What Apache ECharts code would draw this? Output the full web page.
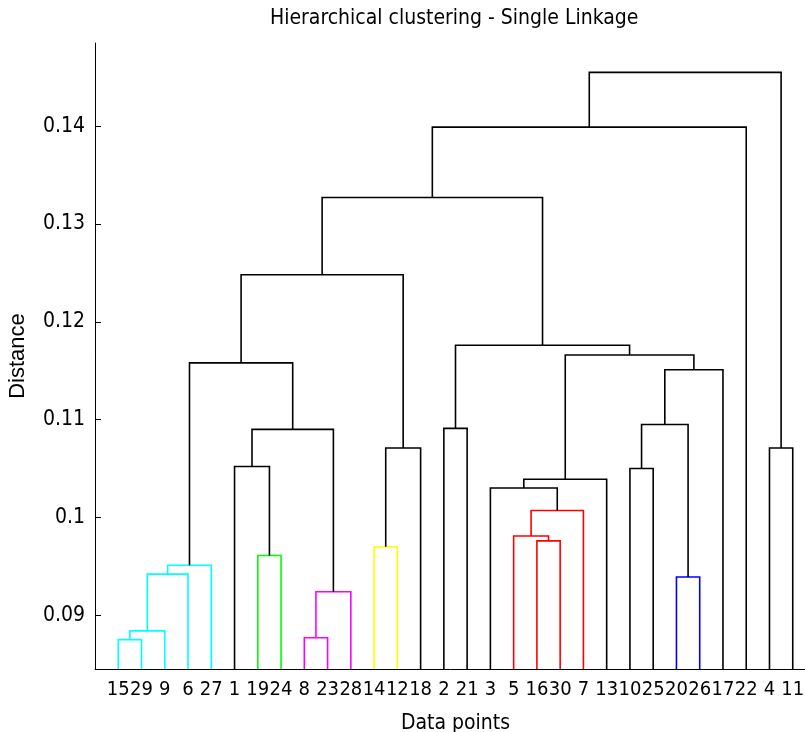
<!DOCTYPE html>
<html>
<head>
<meta charset="utf-8">
<script src="https://cdn.jsdelivr.net/npm/echarts@6/dist/echarts.min.js"></script>
<style>
  html, body { margin: 0; padding: 0; background: #fff; }
  #chart { width: 805px; height: 732px; }
</style>
</head>
<body>
<div id="chart"></div>
<script>
// leaves, left to right, as shown under the axis
const leafLabels = [15, 29, 9, 6, 27, 1, 19, 24, 8, 23, 28, 14, 12, 18, 2, 21,
  3, 5, 16, 30, 7, 13, 10, 25, 20, 26, 17, 22, 4, 11]

// linkage: ids 1..30 are points, 31.. are the merges below in order
const mergeLeft   = [15,  8, 31, 32, 20, 33, 36, 19, 14, 16,  5, 41,  3, 43, 10,  1, 39,  4, 46,  2, 45, 51, 37, 44, 50, 53, 56, 57, 58]
const mergeRight  = [29, 23,  9, 28, 26,  6, 27, 24, 12, 30, 40,  7, 42, 13, 25, 38, 18, 11, 34, 21, 35, 17, 49, 52, 54, 47, 55, 22, 48]
const mergeHeight = [0.0875, 0.0877, 0.0884, 0.0924, 0.0939, 0.0942, 0.0951, 0.0961, 0.0970, 0.0976,
  0.0981, 0.1007, 0.1030, 0.1039, 0.1050, 0.1052, 0.1071, 0.1071, 0.1090, 0.1091,
  0.1095, 0.1151, 0.1158, 0.1166, 0.1176, 0.1248, 0.1327, 0.1399, 0.1455]
const mergeGroup  = ['c', 'm', 'c', 'm', 'b', 'c', 'c', 'g', 'y', 'r',
  'r', 'r', '-', '-', '-', '-', '-', '-', '-', '-',
  '-', '-', '-', '-', '-', '-', '-', '-', '-']

const yTickValues = [0.09, 0.10, 0.11, 0.12, 0.13, 0.14]
const yTickLabels = ['0.09', '0.1', '0.11', '0.12', '0.13', '0.14']

const Y_MIN = 0.0845
const Y_MAX = 0.1485
const N = leafLabels.length

const groupColor = { c: '#00ffff', m: '#ff00ff', b: '#0000ff', g: '#00ff00', y: '#ffff00', r: '#ff0000', '-': '#000000' }
const FONT = "'Liberation Sans Narrow', 'DejaVu Sans Condensed', 'Liberation Sans', sans-serif"

// node positions
const nodeX = {}
const nodeH = {}
leafLabels.forEach((p, i) => { nodeX[p] = i + 1; nodeH[p] = Y_MIN })

const links = mergeHeight.map((h, i) => {
  const id = N + i + 1
  const a = mergeLeft[i], b = mergeRight[i]
  nodeX[id] = (nodeX[a] + nodeX[b]) / 2
  nodeH[id] = h
  return {
    coords: [[nodeX[a], nodeH[a]], [nodeX[a], h], [nodeX[b], h], [nodeX[b], nodeH[b]]],
    lineStyle: { color: groupColor[mergeGroup[i]] }
  }
})

const chart = echarts.init(document.getElementById('chart'))

const option = {
  animation: false,
  backgroundColor: '#fff',
  title: {
    text: 'Hierarchical clustering - Single Linkage',
    left: 265,
    top: 3,
    textStyle: { fontFamily: FONT, fontSize: 21, fontWeight: 'normal', color: '#000' }
  },
  // MATLAB window is [0, N+1]; the picture is cut off on the right
  grid: { left: 95, top: 43, width: 721, height: 626, outerBoundsMode: 'none' },
  xAxis: {
    type: 'value',
    min: 0,
    max: N + 1,
    name: 'Data points',
    nameLocation: 'middle',
    nameGap: 44,
    nameTextStyle: { fontFamily: FONT, fontSize: 21, color: '#000' },
    axisLine: { show: true, lineStyle: { color: '#000', width: 1 } },
    axisTick: { show: false },
    splitLine: { show: false },
    axisLabel: {
      customValues: leafLabels.map((_, i) => i + 1),
      formatter: v => String(leafLabels[Math.round(v) - 1]),
      showMinLabel: true,
      showMaxLabel: true,
      hideOverlap: false,
      fontFamily: FONT,
      fontSize: 20,
      color: '#000',
      margin: 11
    }
  },
  yAxis: {
    type: 'value',
    min: Y_MIN,
    max: Y_MAX,
    name: 'Distance',
    nameLocation: 'middle',
    nameGap: 66,
    nameTextStyle: { fontFamily: "'Liberation Sans', sans-serif", fontSize: 22, color: '#000' },
    axisLine: { show: true, lineStyle: { color: '#000', width: 1 } },
    axisTick: { show: true, inside: true, length: 6, customValues: yTickValues, lineStyle: { color: '#000' } },
    splitLine: { show: false },
    axisLabel: {
      customValues: yTickValues,
      formatter: v => yTickLabels[yTickValues.findIndex(t => Math.abs(t - v) < 1e-9)],
      showMinLabel: true,
      showMaxLabel: true,
      fontFamily: FONT,
      fontSize: 21,
      color: '#000',
      margin: 10
    }
  },
  series: [{
    type: 'lines',
    coordinateSystem: 'cartesian2d',
    polyline: true,
    silent: true,
    lineStyle: { width: 1.6, opacity: 1 },
    data: links
  }]
}

chart.setOption(option)
</script>
</body>
</html>
